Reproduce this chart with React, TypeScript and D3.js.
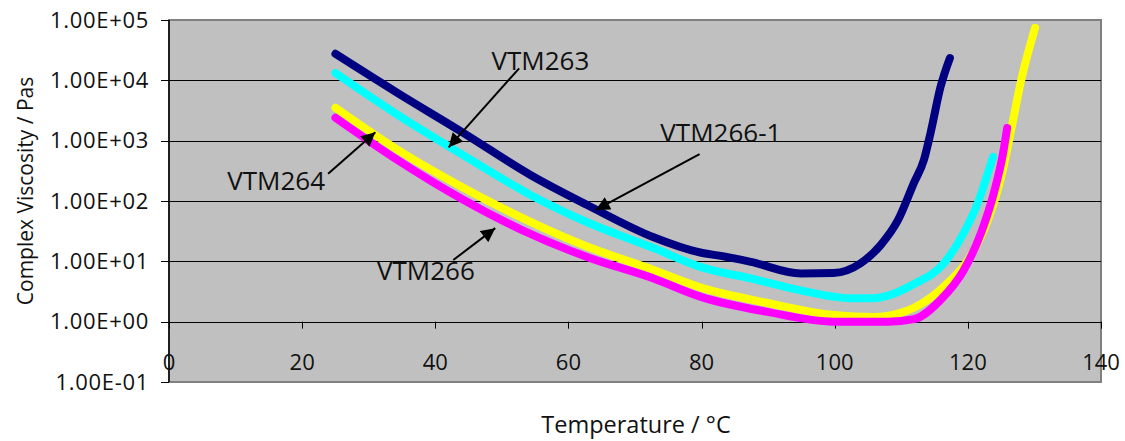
import React, { useEffect } from "react";
import * as d3 from "d3";

// temperatures (°C) and complex viscosity (Pa·s)
const tempVTM2661 = [25, 34.3, 44.2, 54.3, 62.9, 72.8, 79.8, 82.9, 87.4, 94.9, 99.8, 103.9, 106.9, 109.5, 111.9, 113.4, 114.4, 115.9, 117.3];
const viscVTM2661 = [27500, 6200, 1350, 270, 85, 25, 14, 12.3, 9.8, 6.3, 6.4, 9.3, 18.6, 48, 200, 480, 1350, 7800, 23400];

const tempVTM263 = [25, 34.3, 44.2, 54.3, 62.9, 72.8, 79.8, 87.4, 94.9, 102.4, 105.9, 108, 111.9, 116.4, 119.4, 121.5, 123, 123.8];
const viscVTM263 = [13200, 2700, 575, 126, 44, 16.6, 8.1, 5.2, 3.3, 2.45, 2.45, 2.7, 4.2, 9.3, 30, 93, 290, 540];

const tempVTM264 = [25, 34.3, 44.2, 52.8, 62.9, 72.8, 79.8, 89.9, 99.8, 105.9, 109.9, 111.9, 117, 120, 123, 125, 126.5, 128, 130.1];
const viscVTM264 = [3500, 710, 166, 54, 17.4, 7.2, 3.7, 2.04, 1.29, 1.2, 1.4, 1.7, 4.4, 10.5, 48, 250, 1500, 10000, 74000];

const tempVTM266 = [25, 34.3, 44.2, 52.8, 62.9, 72.8, 79.8, 89.9, 99.8, 108, 111.9, 115.9, 119.4, 122, 123.9, 125.3, 125.9];
const viscVTM266 = [2400, 480, 105, 34, 11.7, 5.2, 2.6, 1.45, 1.0, 1.0, 1.1, 2.3, 7.2, 30, 135, 630, 1620];

const xTicks = [0, 20, 40, 60, 80, 100, 120, 140];
const yTicks = [0.1, 1, 10, 100, 1000, 10000, 100000];
const yTickLabels = ["1.00E-01", "1.00E+00", "1.00E+01", "1.00E+02", "1.00E+03", "1.00E+04", "1.00E+05"];

// label text, label anchor [T, visc], arrow start, arrow tip
const noteNames = ["VTM263", "VTM266-1", "VTM264", "VTM266"];
const noteText = [[55.8, 14800], [82.9, 955], [16.1, 151], [38.6, 4.9]];
const noteFrom = [[52.6, 15800], [79.7, 600], [23.9, 282], [42.7, 10.5]];
const noteTo = [[42.0, 776], [64.1, 71], [31.0, 1380], [49.0, 35.5]];

const series = [
  { name: "VTM266-1", t: tempVTM2661, v: viscVTM2661, color: "#000080" },
  { name: "VTM263", t: tempVTM263, v: viscVTM263, color: "#00FFFF" },
  { name: "VTM264", t: tempVTM264, v: viscVTM264, color: "#FFFF00" },
  { name: "VTM266", t: tempVTM266, v: viscVTM266, color: "#FF00FF" },
];

const font = "'Open Sans', 'Noto Sans', sans-serif";

export default function App() {
  useEffect(() => {
    document.body.style.margin = "0";
  }, []);

  const left = 169, right = 1101, top = 20, bottom = 382;
  const x = d3.scaleLinear().domain([0, 140]).range([left, right]);
  const y = d3.scaleLog().domain([0.1, 100000]).range([bottom, top]);

  const line = d3.line<number>().curve(d3.curveMonotoneX);
  const axisY = y(1);

  return (
    <svg width={1125} height={441} style={{ display: "block", background: "#fff" }} fontFamily={font}>
      <defs>
        <marker id="head" viewBox="0 0 10 10" refX="10" refY="5" markerWidth="15" markerHeight="14" markerUnits="userSpaceOnUse" orient="auto">
          <path d="M0,0 L10,5 L0,10 z" fill="#000" />
        </marker>
      </defs>
      <rect x={left} y={top} width={right - left} height={bottom - top} fill="#C0C0C0" stroke="#808080" strokeWidth={2} />
      {yTicks.slice(1, -1).map((d) => (
        <line key={d} x1={left} x2={right} y1={Math.round(y(d)) + 0.5} y2={Math.round(y(d)) + 0.5} stroke="#000" strokeWidth={1} />
      ))}
      {/* y axis */}
      <line x1={left} x2={left} y1={top} y2={bottom} stroke="#000" strokeWidth={1.5} />
      {yTicks.map((d, i) => (
        <g key={d}>
          <line x1={left - 8} x2={left} y1={Math.round(y(d)) + 0.5} y2={Math.round(y(d)) + 0.5} stroke="#000" />
          <text x={149} y={y(d)} dy="0.35em" textAnchor="end" fontSize={22} letterSpacing={0.7} fill="#111">
            {yTickLabels[i]}
          </text>
        </g>
      ))}
      {/* x axis at 1.00E+00 */}
      <line x1={left} x2={right} y1={Math.round(axisY) + 0.5} y2={Math.round(axisY) + 0.5} stroke="#000" />
      {xTicks.map((d) => (
        <g key={d}>
          <line x1={Math.round(x(d)) + 0.5} x2={Math.round(x(d)) + 0.5} y1={axisY} y2={axisY + 7} stroke="#000" />
          <text x={x(d)} y={362} dy="0.35em" textAnchor="middle" fontSize={22} fill="#111">
            {d}
          </text>
        </g>
      ))}
      {/* series */}
      {series.map((s) => (
        <path
          key={s.name}
          d={line.x((_, i) => x(s.t[i])).y((d) => y(d))(s.v) || ""}
          fill="none"
          stroke={s.color}
          strokeWidth={8}
          strokeLinecap="round"
          strokeLinejoin="round"
        />
      ))}
      {/* annotations */}
      {noteNames.map((n, i) => (
        <g key={n}>
          <line
            x1={x(noteFrom[i][0])}
            y1={y(noteFrom[i][1])}
            x2={x(noteTo[i][0])}
            y2={y(noteTo[i][1])}
            stroke="#000"
            strokeWidth={2}
            markerEnd="url(#head)"
          />
          <text x={x(noteText[i][0])} y={y(noteText[i][1])} textAnchor="middle" fontSize={26} fill="#111">
            {n}
          </text>
        </g>
      ))}
      <text transform={`translate(33,191) rotate(-90)`} textAnchor="middle" fontSize={21} fill="#111">
        Complex Viscosity / Pas
      </text>
      <text x={636} y={433} textAnchor="middle" fontSize={23.5} fill="#111">
        Temperature / °C
      </text>
    </svg>
  );
}
